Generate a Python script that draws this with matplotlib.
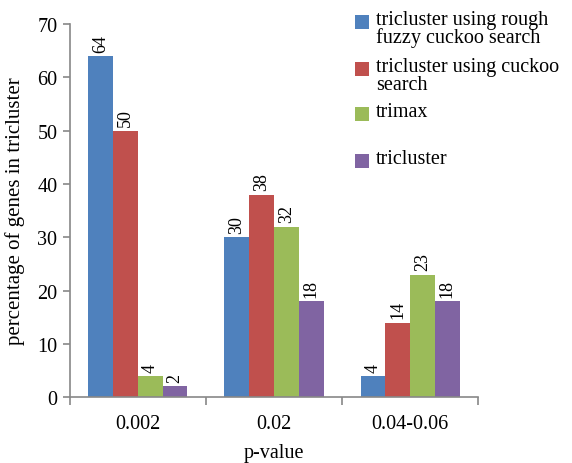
import matplotlib
matplotlib.use("Agg")
import matplotlib.pyplot as plt
from matplotlib.patches import Rectangle
import numpy as np

plt.rcParams['font.family'] = ['Liberation Serif', 'DejaVu Serif']

categories = ["0.002", "0.02", "0.04-0.06"]
series_names = [
    "tricluster using rough\nfuzzy cuckoo search",
    "tricluster using cuckoo\nsearch",
    "trimax",
    "tricluster",
]
rough_fuzzy_cuckoo = [64, 30, 4]
cuckoo = [50, 38, 14]
trimax = [4, 32, 23]
tricluster = [2, 18, 18]
colors = ["#4F81BD", "#C0504D", "#9BBB59", "#8064A2"]

values = [rough_fuzzy_cuckoo, cuckoo, trimax, tricluster]

fig = plt.figure(figsize=(5.72, 4.64), dpi=100)
ax = fig.add_axes([0.122, 0.142, 0.714, 0.804])

x = np.arange(len(categories))
width = 0.182
offsets = (np.arange(4) - 1.5) * width
for vals, off, c in zip(values, offsets, colors):
    bars = ax.bar(x + off, vals, width, color=c, edgecolor='none')
    ax.bar_label(bars, labels=[str(v) for v in vals], rotation=90,
                 padding=3, fontsize=13)

ax.set_xlim(-0.5, len(categories) - 0.5)
ax.set_ylim(0, 70)
ax.set_yticks(range(0, 71, 10))
ax.set_xticks(x)
ax.set_xticklabels(categories, fontsize=14.5)
ax.tick_params(axis='x', length=0, pad=12)
ax.set_xticks(np.arange(len(categories) + 1) - 0.5, minor=True)
ax.tick_params(axis='x', which='minor', length=6, color='#888888', width=1.2)
ax.tick_params(axis='y', labelsize=14.5, length=5, color='#888888', width=1.2,
               pad=4)

for s in ['top', 'right']:
    ax.spines[s].set_visible(False)
for s in ['left', 'bottom']:
    ax.spines[s].set_color('#888888')
    ax.spines[s].set_linewidth(1.2)

ax.set_xlabel("p-value", fontsize=14.5, labelpad=7)
ax.set_ylabel("percentage of genes in tricluster", fontsize=15, labelpad=9)

# legend drawn as swatches and text in figure coordinates
W, H = 572, 464
ys = [23, 70, 115, 162]
for name, c, yc in zip(series_names, colors, ys):
    fig.patches.append(Rectangle((355 / W, 1 - (yc + 7) / H), 14 / W, 14 / H,
                                 transform=fig.transFigure, facecolor=c,
                                 edgecolor='none'))
    fig.text(376 / W, 1 - (yc - 12) / H, name, fontsize=14.5, va='top',
             ha='left', linespacing=0.9)

fig.savefig("out.png", dpi=100)
